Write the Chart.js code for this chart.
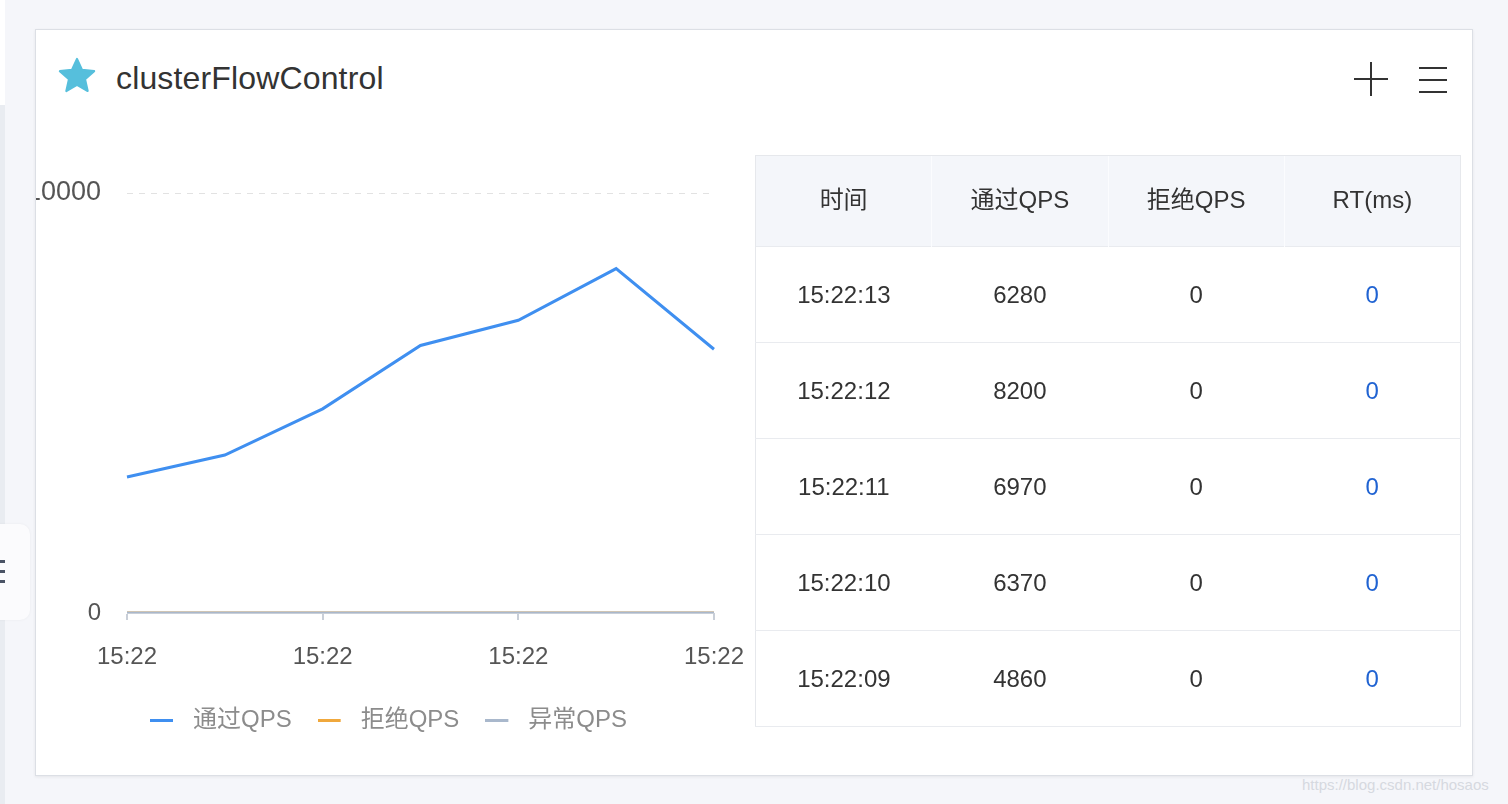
<!DOCTYPE html>
<html>
<head>
<meta charset="utf-8">
<script src="https://cdn.jsdelivr.net/npm/chart.js@4.4.1/dist/chart.umd.min.js"></script>
<style>
html,body{margin:0;padding:0;width:1508px;height:804px;overflow:hidden;background:#f5f6fa;font-family:"Liberation Sans","Noto Sans CJK SC",sans-serif;}
.side1{position:absolute;left:0;top:0;width:5px;height:105px;background:#ffffff;}
.side2{position:absolute;left:0;top:105px;width:5px;height:699px;background:#e9ecf1;}
.sbtn{position:absolute;left:-20px;top:524px;width:50px;height:96px;background:#fbfbfd;border-radius:10px;box-shadow:0 0 3px rgba(0,0,0,0.05);}
.sbtn i{position:absolute;left:20px;width:5px;height:3px;background:#4a5366;}
.card{position:absolute;left:35px;top:29px;width:1436px;height:745px;background:#fff;border:1px solid #dcdfe5;box-shadow:0 1px 3px rgba(0,0,0,0.07);overflow:hidden;}
.star{position:absolute;left:20px;top:25px;width:42px;height:42px;}
.title{position:absolute;left:80px;top:28px;font-size:32px;line-height:40px;color:#333;letter-spacing:0.15px;}
.plus{position:absolute;left:1318px;top:32px;width:34px;height:34px;}
.plus:before{content:"";position:absolute;left:16px;top:0;width:2px;height:34px;background:#333;}
.plus:after{content:"";position:absolute;left:0;top:16px;width:34px;height:2px;background:#333;}
.menu{position:absolute;left:1383px;top:37px;width:28px;height:26px;}
.menu i{position:absolute;left:0;width:28px;height:2px;background:#333;}
#wrap{position:absolute;left:-21px;top:120px;width:752px;height:600px;}
table{position:absolute;left:719px;top:125px;width:706px;border-collapse:collapse;table-layout:fixed;font-size:24px;color:#333;}
th{height:91px;background:#f4f6fa;font-weight:normal;border-top:1px solid #e6e8ec;border-left:1px solid #fbfcfe;padding:0 0 2px 0;line-height:1;box-sizing:border-box;}
th:first-child{border-left:1px solid #e6e8ec;}
th:last-child{border-right:1px solid #e6e8ec;}
td{height:95px;text-align:center;border-top:1px solid #e9ebef;border-bottom:1px solid #e9ebef;padding:0;line-height:1;}
td:first-child{border-left:1px solid #e6e8ec;}
td:last-child{border-right:1px solid #e6e8ec;}
td.rt{color:#2063d2;}
.wm{position:absolute;left:1302px;top:776px;font-size:15px;color:#d6d9e0;font-family:"Liberation Sans",sans-serif;}
</style>
</head>
<body>
<div class="side1"></div>
<div class="side2"></div>
<div class="sbtn"><i style="top:36px"></i><i style="top:46px"></i><i style="top:56px"></i></div>
<div class="card">
  <svg class="star" viewBox="0 0 24 24"><path fill="#56bfdc" stroke="#56bfdc" stroke-width="1.2" stroke-linejoin="round" d="M12 2.2l2.9 6.3 6.9.7-5.2 4.6 1.5 6.8L12 17.1l-6.1 3.5 1.5-6.8-5.2-4.6 6.9-.7z"/></svg>
  <div class="title">clusterFlowControl</div>
  <div class="plus"></div>
  <div class="menu"><i style="top:0"></i><i style="top:12px"></i><i style="top:24px"></i></div>
  <div id="wrap"><canvas id="c" width="752" height="600"></canvas></div>
  <table id="tbl"></table>
</div>
<div class="wm">https://blog.csdn.net/hosaos</div>
<script>
const timeLabels = ['15:22:07','15:22:08','15:22:09','15:22:10','15:22:11','15:22:12','15:22:13'];
const passQps = [3240, 3760, 4860, 6370, 6970, 8200, 6280];
const blockQps = [0, 0, 0, 0, 0, 0, 0];
const exceptionQps = [0, 0, 0, 0, 0, 0, 0];
const yTickValues = [0, 10000];
const seriesNames = ['通过QPS', '拒绝QPS', '异常QPS'];
const seriesColors = ['#3f8ff0', '#f0a83c', '#a9b8cc'];

const tableHeaders = ['时间', '通过QPS', '拒绝QPS', 'RT(ms)'];
const tableTimes = ['15:22:13', '15:22:12', '15:22:11', '15:22:10', '15:22:09'];
const tablePass = [6280, 8200, 6970, 6370, 4860];
const tableBlock = [0, 0, 0, 0, 0];
const tableRt = [0, 0, 0, 0, 0];

// table
(function(){
  const t = document.getElementById('tbl');
  let h = '<tr>' + tableHeaders.map(x => '<th>' + x + '</th>').join('') + '</tr>';
  for (let i = 0; i < tableTimes.length; i++) {
    h += '<tr><td>' + tableTimes[i] + '</td><td>' + tablePass[i] + '</td><td>' + tableBlock[i] + '</td><td class="rt">' + tableRt[i] + '</td></tr>';
  }
  t.innerHTML = h;
})();

const FONT = '"Liberation Sans", "Noto Sans CJK SC", sans-serif';
const seriesData = [passQps, blockQps, exceptionQps];
const seriesOrder = [2, 1, 0];

// legend marker icons: short line on the left of a 31px-wide transparent box
function legendIcon(color) {
  const cv = document.createElement('canvas');
  cv.width = 31; cv.height = 3;
  const g = cv.getContext('2d');
  g.fillStyle = color;
  g.fillRect(0, 0, 23, 3);
  return cv;
}

const legendShift = {
  id: 'legendShift',
  afterLayout(chart) {
    if (chart.legend) { chart.legend.left = 135 - 26; }
  }
};

new Chart(document.getElementById('c'), {
  type: 'line',
  data: {
    labels: timeLabels,
    datasets: seriesNames.map((n, i) => ({
      label: n,
      data: seriesData[i],
      borderColor: seriesColors[i],
      backgroundColor: seriesColors[i],
      borderWidth: 3,
      pointRadius: 0,
      pointHoverRadius: 0,
      pointStyle: legendIcon(seriesColors[i]),
      tension: 0,
      fill: false,
      order: seriesOrder[i]
    }))
  },
  plugins: [legendShift],
  options: {
    responsive: false,
    animation: false,
    events: [],
    layout: { padding: { left: 0, right: 20, top: 43, bottom: 8 } },
    plugins: {
      tooltip: { enabled: false },
      legend: {
        position: 'bottom',
        align: 'start',
        labels: {
          usePointStyle: true,
          pointStyleWidth: 31,
          boxHeight: 16,
          padding: 26,
          color: '#8c8c8c',
          font: { size: 24, family: FONT },
          sort: (a, b) => a.datasetIndex - b.datasetIndex
        }
      }
    },
    scales: {
      x: {
        grid: { drawOnChartArea: false, drawTicks: true, tickLength: 7, color: '#c9cfd8', lineWidth: 2 },
        border: { display: true, color: '#c9cfd8', width: 1 },
        ticks: {
          autoSkip: false, maxRotation: 0, padding: 23, color: '#555',
          font: { size: 24, family: FONT },
          callback: (v, i) => (i % 2 === 0 ? timeLabels[i].slice(0, 5) : null)
        },
        afterFit: s => { s.height = 69; }
      },
      y: {
        min: 0, max: 10000,
        afterBuildTicks: s => { s.ticks = yTickValues.map(v => ({ value: v })); },
        grid: { drawTicks: false, color: '#e2e2e2', lineWidth: 1 },
        border: { display: false, dash: [6, 6] },
        ticks: {
          padding: 26, color: '#555',
          font: c => ({ size: (c.tick && c.tick.value > 0) ? 27 : 24, family: FONT }),
          callback: v => String(v)
        },
        afterFit: s => { s.width = 112; }
      }
    }
  }
});
</script>
</body>
</html>
